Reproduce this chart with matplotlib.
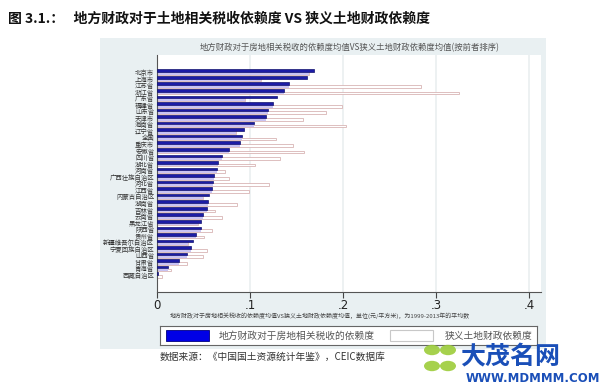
import matplotlib
matplotlib.use("Agg")
import matplotlib.pyplot as plt
from matplotlib.patches import Rectangle, Circle

plt.rcParams['font.family'] = ['Noto Sans CJK SC', 'DejaVu Sans']

provinces = ["北京市", "上海市", "江苏省", "浙江省", "广东省", "福建省", "山东省", "天津市",
             "海南省", "辽宁省", "全国", "重庆市", "安徽省", "四川省", "湖北省", "河南省",
             "广西壮族自治区", "河北省", "江西省", "内蒙古自治区", "湖南省", "吉林省", "云南省",
             "黑龙江省", "陕西省", "贵州省", "新疆维吾尔自治区", "宁夏回族自治区", "山西省",
             "甘肃省", "青海省", "西藏自治区"]
# 地方财政对于房地相关税收的依赖度
tax_dep = [0.169, 0.161, 0.142, 0.137, 0.129, 0.125, 0.119, 0.117,
           0.104, 0.094, 0.091, 0.089, 0.077, 0.070, 0.066, 0.065,
           0.061, 0.060, 0.059, 0.056, 0.055, 0.054, 0.049,
           0.047, 0.047, 0.042, 0.039, 0.037, 0.032,
           0.024, 0.012, 0.001]
# 狭义土地财政依赖度
land_dep = [0.163, 0.112, 0.284, 0.325, 0.095, 0.199, 0.182, 0.157,
            0.203, 0.085, 0.128, 0.146, 0.158, 0.132, 0.105, 0.073,
            0.077, 0.120, 0.099, 0.049, 0.086, 0.062, 0.070,
            0.044, 0.059, 0.051, 0.033, 0.054, 0.049,
            0.032, 0.015, 0.005]
xticks = [0, 0.1, 0.2, 0.3, 0.4]
xticklabels = ["0", ".1", ".2", ".3", ".4"]

W, H = 600, 390
fig = plt.figure(figsize=(6, 3.9), dpi=100)

def box(x0, y0, x1, y1):
    return [x0 / W, 1 - y1 / H, (x1 - x0) / W, (y1 - y0) / H]

# grey stata graph region
bg = fig.add_axes(box(100, 38, 546, 349))
bg.set_facecolor('#e9f0f2')
bg.set_xticks([]); bg.set_yticks([])
for s in bg.spines.values():
    s.set_visible(False)

ax = fig.add_axes(box(157, 55, 541, 292))
ax.set_facecolor('white')
n = len(provinces)
ys = list(range(n))
ax.barh([y - 0.2 for y in ys], tax_dep, height=0.4, color='#1c1ca6',
        edgecolor='#12126e', linewidth=0.5, zorder=3)
ax.barh([y + 0.22 for y in ys], land_dep, height=0.4, color='white',
        edgecolor='#d8b4b4', linewidth=0.6, zorder=2)
ax.barh([y + 0.22 for y in ys], [min(a, b) for a, b in zip(tax_dep, land_dep)],
        height=0.4, color='#c9c3f3', linewidth=0, zorder=2.5)
ax.set_ylim(n - 1 + 2.6, -2.6)
ax.set_xlim(0, 0.413)
ax.set_yticks(ys)
ax.set_yticklabels(provinces, fontsize=4.6, color='#333333')
ax.tick_params(axis='y', length=0, pad=2)
ax.set_xticks(xticks)
ax.set_xticklabels(xticklabels, fontsize=8.5, color='#222222', family='DejaVu Sans')
ax.tick_params(axis='x', length=4, width=0.8, color='#444444', pad=1)
ax.grid(axis='x', color='#eaeff0', linewidth=1.2, zorder=0)
for s in ['top', 'right']:
    ax.spines[s].set_visible(False)
ax.spines['left'].set_color('#555555')
ax.spines['bottom'].set_color('#555555')
ax.spines['left'].set_linewidth(0.8)
ax.spines['bottom'].set_linewidth(0.8)

# texts
fig.text(8 / W, 1 - 19 / H, "图 3.1.：   地方财政对于土地相关税收依赖度 VS 狭义土地财政依赖度",
         fontsize=10, fontweight='bold', color='#111111', va='center', ha='left')
fig.text(350 / W, 1 - 48 / H, "地方财政对于房地相关税收的依赖度均值VS狭义土地财政依赖度均值(按前者排序)",
         fontsize=6, color='#555555', va='center', ha='center')
fig.text(170 / W, 1 - 316 / H,
         "地方财政对于房地相关税收的依赖度均值VS狭义土地财政依赖度均值，单位(元/平方米)，为1999-2013年的平均数",
         fontsize=4.3, color='#444444', va='center', ha='left')

# legend
lg = fig.add_axes(box(160, 326, 537, 345))
lg.set_xlim(160, 537); lg.set_ylim(345, 326)
lg.set_facecolor('white')
lg.set_xticks([]); lg.set_yticks([])
for s in lg.spines.values():
    s.set_color('#666666'); s.set_linewidth(0.8)
lg.add_patch(Rectangle((166, 330), 43, 11, facecolor='#0000e6', edgecolor='#000080', linewidth=0.6))
lg.text(219, 335.5, "地方财政对于房地相关税收的依赖度", fontsize=7, color='#555555', va='center')
lg.add_patch(Rectangle((390, 330), 43, 11, facecolor='white', edgecolor='#c8c8c8', linewidth=0.8))
lg.text(445, 335.5, "狭义土地财政依赖度", fontsize=7, color='#555555', va='center')

fig.text(160 / W, 1 - 357 / H, "数据来源：《中国国土资源统计年鉴》，CEIC数据库",
         fontsize=7, color='#333333', va='center', ha='left')

# watermark
for cx, cy in [(432, 350), (448, 350), (432, 366), (448, 366)]:
    fig.patches.append(Circle((cx / W, 1 - cy / H), 8 / W, transform=fig.transFigure,
                              facecolor='#9ccc3a', edgecolor='none', alpha=0.9))
fig.text(460 / W, 1 - 357 / H, "大茂名网", fontsize=18, fontweight='bold', color='#1a4fb8',
         va='center', ha='left')
fig.text(466 / W, 1 - 378 / H, "WWW.MDMMM.COM", fontsize=8.5, fontweight='bold', color='#1a4fb8',
         va='center', ha='left', family='DejaVu Sans')

fig.savefig("out.png", dpi=100)
